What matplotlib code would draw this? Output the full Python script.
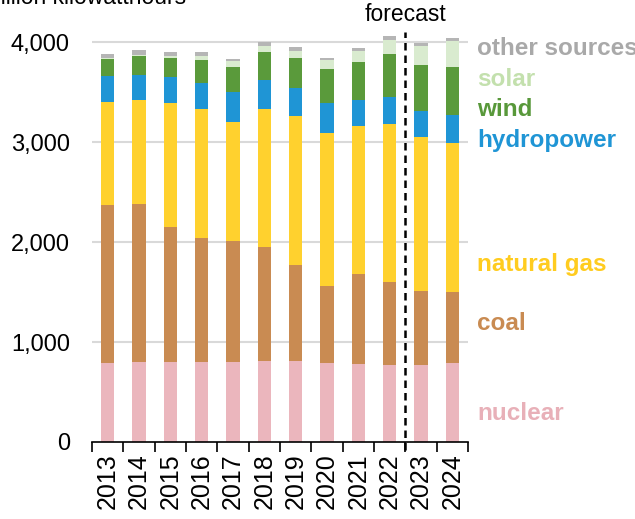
import numpy as np
import matplotlib.pyplot as plt

plt.rcParams['font.family'] = ['Liberation Sans', 'DejaVu Sans']

years = ['2013', '2014', '2015', '2016', '2017', '2018',
         '2019', '2020', '2021', '2022', '2023', '2024']

# billion kilowatthours by source
nuclear = [789, 797, 797, 805, 805, 807, 809, 790, 778, 772, 775, 795]
coal = [1581, 1581, 1352, 1239, 1205, 1146, 965, 773, 899, 828, 735, 705]
natural_gas = [1030, 1040, 1243, 1283, 1187, 1373, 1487, 1530, 1487, 1583, 1537, 1493]
hydropower = [263, 250, 254, 267, 306, 290, 280, 293, 253, 264, 263, 277]
wind = [167, 193, 190, 227, 250, 280, 303, 340, 380, 436, 460, 483]
solar = [10, 14, 23, 40, 57, 64, 67, 90, 113, 137, 190, 257]
other = [43, 44, 43, 36, 20, 36, 36, 27, 27, 40, 27, 33]

series = [
    ('nuclear', nuclear, '#ebb6bd'),
    ('coal', coal, '#c98b52'),
    ('natural gas', natural_gas, '#ffd12e'),
    ('hydropower', hydropower, '#1f95d5'),
    ('wind', wind, '#5a9a3b'),
    ('solar', solar, '#d9ebcf'),
    ('other sources', other, '#b5b5b5'),
]

label_colors = {
    'nuclear': '#e8b0b8',
    'coal': '#c98b52',
    'natural gas': '#ffcc1f',
    'hydropower': '#1f95d5',
    'wind': '#58983a',
    'solar': '#c3e0ad',
    'other sources': '#a9a9a9',
}
label_y = {
    'nuclear': 280,
    'coal': 1180,
    'natural gas': 1780,
    'hydropower': 3020,
    'wind': 3320,
    'solar': 3620,
    'other sources': 3935,
}

fig = plt.figure(figsize=(6.35, 5.19), dpi=100)
ax = fig.add_axes([92 / 635, 77 / 519, 376 / 635, 410 / 519])

x = np.arange(len(years))
bottom = np.zeros(len(years))
for name, vals, color in series:
    ax.bar(x, vals, width=0.42, bottom=bottom, color=color, zorder=2)
    bottom += np.array(vals)

ax.set_xlim(-0.5, len(years) - 0.5)
ax.set_ylim(0, 4100)

ax.set_yticks([0, 1000, 2000, 3000, 4000])
ax.set_yticklabels(['0', '1,000', '2,000', '3,000', '4,000'], fontsize=17)
ax.tick_params(axis='y', length=0, pad=16)
for yv in [1000, 2000, 3000, 4000]:
    ax.axhline(yv, color='#d9d9d9', linewidth=1.5, zorder=1)

# category ticks sit on the boundaries between years
ax.set_xticks(x)
ax.set_xticklabels(years, rotation=90, fontsize=18)
ax.set_xticks(np.arange(-0.5, len(years)), minor=True)
ax.tick_params(axis='x', which='major', length=0, pad=8)
ax.tick_params(axis='x', which='minor', length=7, width=1.2, color='black')

for side in ['top', 'right', 'left']:
    ax.spines[side].set_visible(False)
ax.spines['bottom'].set_linewidth(1.2)

# forecast divider
ax.plot([9.5, 9.5], [-80, 4100], color='black', linestyle=(0, (3, 2)),
        linewidth=1.8, clip_on=False, zorder=3)
ax.text(9.5, 4160, 'forecast', ha='center', va='bottom', fontsize=16.5)

for name, vals, color in series:
    ax.text(len(years) - 0.2, label_y[name], name, color=label_colors[name],
            fontsize=17.5, fontweight='bold', va='center', ha='left',
            clip_on=False)

fig.text(-12 / 635, 1 - 4 / 519, 'billion kilowatthours', fontsize=16.5,
         va='baseline', ha='left')

fig.savefig('out.png', dpi=100)
